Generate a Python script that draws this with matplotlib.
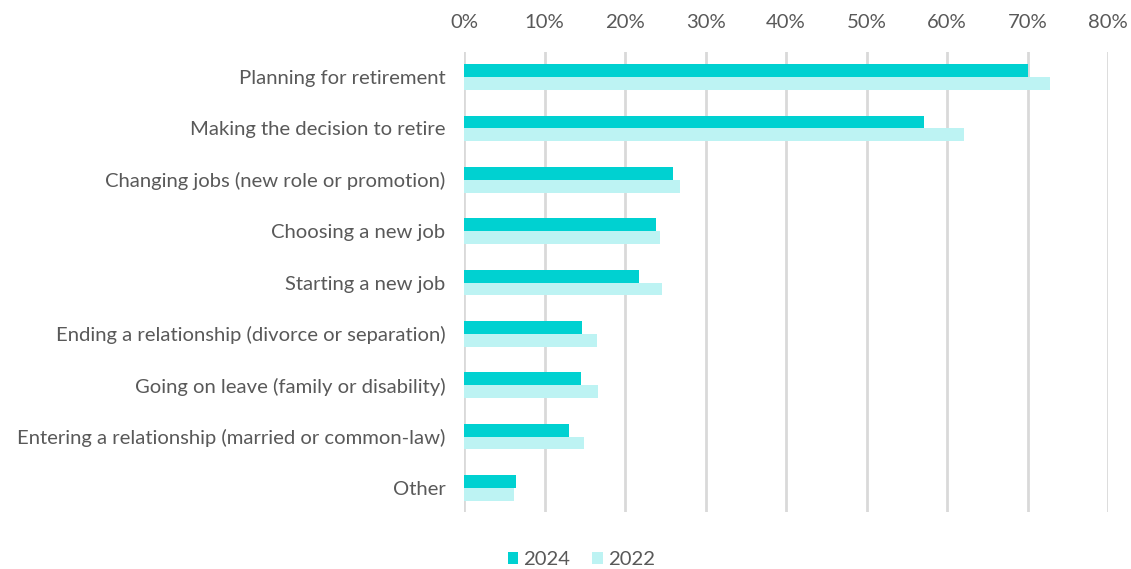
import numpy as np
import matplotlib.pyplot as plt
from matplotlib.ticker import PercentFormatter

categories = [
    "Planning for retirement",
    "Making the decision to retire",
    "Changing jobs (new role or promotion)",
    "Choosing a new job",
    "Starting a new job",
    "Ending a relationship (divorce or separation)",
    "Going on leave (family or disability)",
    "Entering a relationship (married or common-law)",
    "Other",
]
values_2024 = [70.0, 57.1, 25.9, 23.9, 21.7, 14.7, 14.5, 13.0, 6.4]
values_2022 = [72.8, 62.1, 26.8, 24.3, 24.6, 16.5, 16.7, 14.9, 6.2]
x_ticks = [0, 10, 20, 30, 40, 50, 60, 70, 80]

plt.rcParams['font.family'] = ['Lato', 'DejaVu Sans']
text_color = '#595959'

fig = plt.figure(figsize=(11.31, 5.69), dpi=100)
ax = fig.add_axes([0.4103, 0.1002, 0.5694, 0.8084])

y = np.arange(len(categories))
h = 0.25
ax.barh(y - h / 2, values_2024, height=h, color='#00D1D1', label='2024', zorder=3)
ax.barh(y + h / 2, values_2022, height=h, color='#BDF3F3', label='2022', zorder=3)

ax.set_ylim(len(categories) - 0.53, -0.49)
ax.set_xlim(0, 80)
ax.set_xticks(x_ticks)
ax.xaxis.set_major_formatter(PercentFormatter(decimals=0))
ax.xaxis.tick_top()
ax.set_yticks(y)
ax.set_yticklabels(categories)
ax.tick_params(axis='both', length=0, labelsize=14.6, colors=text_color)
ax.tick_params(axis='y', pad=13.5)
ax.tick_params(axis='x', pad=15)
ax.grid(axis='x', color='#D9D9D9', linewidth=2, zorder=0)
for s in ax.spines.values():
    s.set_visible(False)

ax.legend(loc='center', bbox_to_anchor=(0.182, -0.104), ncol=2, frameon=False,
          fontsize=14.6, labelcolor=text_color, handlelength=0.5, handleheight=0.5,
          handletextpad=0.25, columnspacing=1.1)

fig.savefig('out.png', dpi=100)
